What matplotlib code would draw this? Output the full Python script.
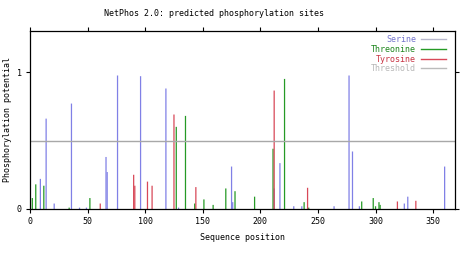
import matplotlib
matplotlib.use("Agg")
import matplotlib.pyplot as plt

# predicted sites
serine_pos = [9, 14, 21, 36, 43, 49, 66, 67, 76, 96, 118, 129, 175, 176, 212, 217,
              229, 236, 264, 277, 280, 286, 325, 328, 360]
serine_val = [0.22, 0.66, 0.04, 0.77, 0.01, 0.01, 0.38, 0.27, 0.975, 0.97, 0.88, 0.01,
              0.31, 0.05, 0.15, 0.335, 0.02, 0.02, 0.02, 0.975, 0.42, 0.02, 0.04, 0.09, 0.31]

threonine_pos = [2, 5, 12, 34, 52, 127, 135, 143, 151, 159, 170, 178, 195, 211, 221,
                 238, 242, 288, 298, 300, 303, 304]
threonine_val = [0.08, 0.18, 0.17, 0.01, 0.08, 0.60, 0.68, 0.04, 0.07, 0.03, 0.15, 0.13,
                 0.09, 0.44, 0.95, 0.05, 0.01, 0.055, 0.08, 0.02, 0.05, 0.03]

tyrosine_pos = [61, 90, 91, 102, 106, 125, 144, 212, 241, 319, 335]
tyrosine_val = [0.04, 0.25, 0.17, 0.20, 0.17, 0.69, 0.16, 0.865, 0.155, 0.055, 0.06]

threshold = 0.5
seq_len = 369

xticks = [0, 50, 100, 150, 200, 250, 300, 350]
yticks = [0, 1]

plt.rcParams['font.family'] = ['DejaVu Sans Mono']
fs = 6

fig = plt.figure(figsize=(4.76, 2.71), dpi=100)
ax = fig.add_axes([30 / 476, 62 / 271, 425 / 476, 178 / 271])

lw = 0.9
ax.vlines(serine_pos, 0, serine_val, colors='#8080e6', lw=lw, snap=False)
ax.vlines(threonine_pos, 0, threonine_val, colors='#259a25', lw=lw, snap=False)
ax.vlines(tyrosine_pos, 0, tyrosine_val, colors='#d84858', lw=lw, snap=False)
ax.axhline(threshold, color='#a8a8a8', lw=1.0)

# legend entries (text right, sample line after it)
ax.plot([], [], color='#b8b8cc', lw=1, label='Serine')
ax.plot([], [], color='#259a25', lw=1, label='Threonine')
ax.plot([], [], color='#d84858', lw=1, label='Tyrosine')
ax.plot([], [], color='#bbbbbb', lw=1, label='Threshold')
leg = ax.legend(loc='upper right', bbox_to_anchor=(0.979, 0.978), markerfirst=False,
                frameon=False, fontsize=fs, handlelength=3.0, handletextpad=0.6,
                labelspacing=0.1, borderaxespad=0, borderpad=0)
for t, c in zip(leg.get_texts(), ['#7474cc', '#1f861f', '#c83444', '#b8b8b8']):
    t.set_color(c)

ax.set_xlim(0, seq_len)
ax.set_ylim(0, 1.3)
ax.set_xticks(xticks)
ax.set_yticks(yticks)
ax.tick_params(direction='out', length=3, width=0.8, labelsize=fs, pad=3,
               top=True, right=True)
for s in ax.spines.values():
    s.set_linewidth(0.9)

ax.set_xlabel('Sequence position', fontsize=fs, labelpad=5)
ax.set_ylabel('Phosphorylation potential', fontsize=fs, labelpad=3)
fig.text(214 / 476, 1 - 14 / 271, 'NetPhos 2.0: predicted phosphorylation sites',
         fontsize=fs, ha='center', va='center')

fig.savefig('out.png', dpi=100)
